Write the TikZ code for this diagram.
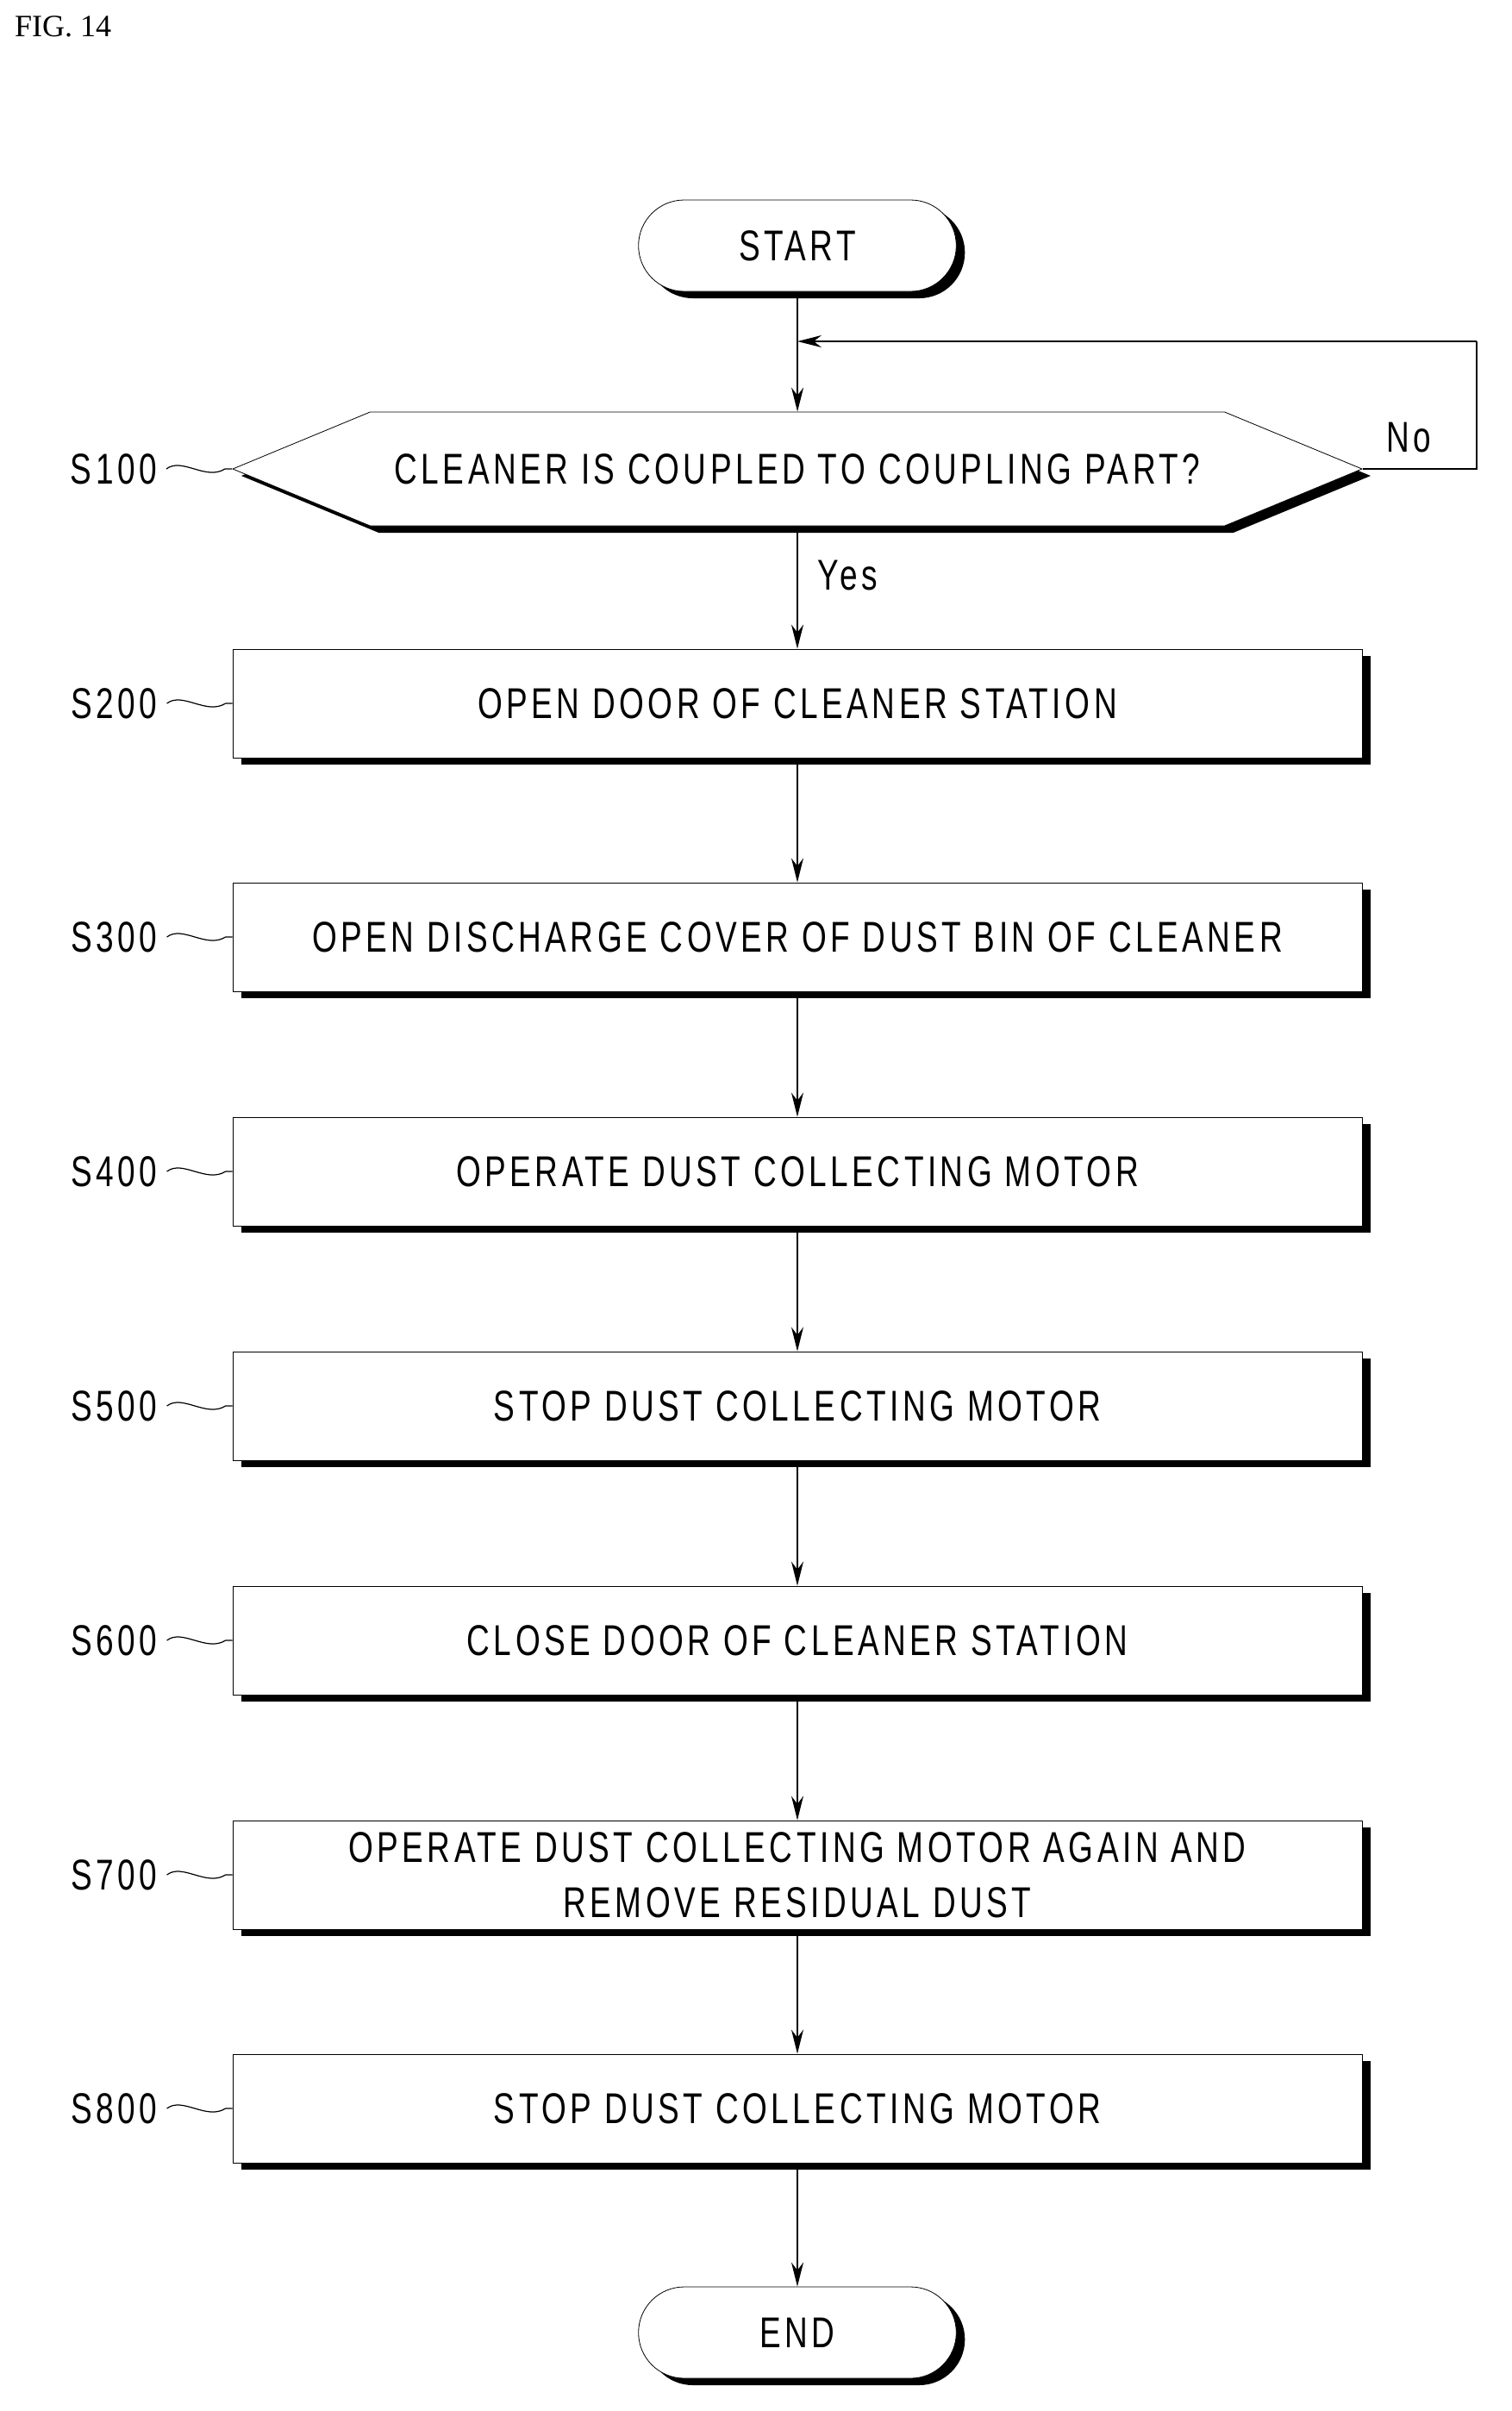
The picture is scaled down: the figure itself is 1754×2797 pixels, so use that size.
\documentclass[tikz,border=0pt]{standalone}
\usepackage{fontspec}
\setmainfont{Liberation Serif}
\setsansfont{Liberation Sans}[FakeStretch=0.74,LetterSpace=9]
\usetikzlibrary{shapes.misc,shapes.symbols,shadows,arrows.meta}
\begin{document}
\begin{tikzpicture}[x=0.5pt,y=-0.5pt,
  shd/.style={drop shadow={shadow xshift=5pt,shadow yshift=-4pt,opacity=1,fill=black}},
  box/.style={draw,fill=white,shd,minimum width=655pt,minimum height=63pt,font=\sffamily\fontsize{25}{32}\selectfont,align=center,inner sep=0pt},
  term/.style={draw,fill=white,shd,rounded rectangle,minimum width=191pt,minimum height=53pt,font=\sffamily\fontsize{25}{30}\selectfont},
  dec/.style={draw,fill=white,shd,signal,signal to=west and east,signal pointer angle=45,minimum width=655pt,minimum height=66pt,font=\sffamily\fontsize{25}{30}\selectfont,inner sep=0pt},
  lab/.style={font=\sffamily\fontsize{25}{30}\selectfont,anchor=east},
  arr/.style={-{Stealth[length=14pt,width=7pt]},line width=0.9pt},
  ln/.style={line width=0.9pt}]
\useasboundingbox (0,0) rectangle (1754,2797);
\node[font=\fontsize{18}{22}\selectfont,anchor=north west] (fig) at (10,12) {FIG. 14};
\node[term] (start) at (925,285) {START};
\node[dec] (s100) at (925,544) {CLEANER IS COUPLED TO COUPLING PART?};
\node[box] (s200) at (925,816) {OPEN DOOR OF CLEANER STATION};
\node[box] (s300) at (925,1087) {OPEN DISCHARGE COVER OF DUST BIN OF CLEANER};
\node[box] (s400) at (925,1359) {OPERATE DUST COLLECTING MOTOR};
\node[box] (s500) at (925,1631) {STOP DUST COLLECTING MOTOR};
\node[box] (s600) at (925,1903) {CLOSE DOOR OF CLEANER STATION};
\node[box] (s700) at (925,2175) {OPERATE DUST COLLECTING MOTOR AGAIN AND\\REMOVE RESIDUAL DUST};
\node[box] (s800) at (925,2446) {STOP DUST COLLECTING MOTOR};
\node[term] (end) at (925,2706) {END};
\coordinate (j) at (925,396);
\coordinate (r1) at (1713,544);
\coordinate (r2) at (1713,396);
\draw[arr] (start) -- (s100);
\draw[ln] (s100.east) -- (r1) -- (r2);
\draw[arr] (r2) -- (j);
\node[font=\sffamily\fontsize{25}{30}\selectfont] (no) at (1634,508) {No};
\draw[arr] (s100) -- node[right=8pt,font=\sffamily\fontsize{25}{30}\selectfont,pos=0.4]{Yes} (s200);
\draw[arr] (s200) -- (s300);
\draw[arr] (s300) -- (s400);
\draw[arr] (s400) -- (s500);
\draw[arr] (s500) -- (s600);
\draw[arr] (s600) -- (s700);
\draw[arr] (s700) -- (s800);
\draw[arr] (s800) -- (end);
\foreach \n/\t in {s100/S100,s200/S200,s300/S300,s400/S400,s500/S500,s600/S600,s700/S700,s800/S800}{
  \node[lab] (l\n) at ([xshift=-40pt]\n.west) {\t};
  \draw[line width=0.6pt] ([xshift=2pt]l\n.east) .. controls +(18,-14) and +(-22,14) .. ([xshift=-4pt]\n.west) -- (\n.west);
}
\end{tikzpicture}
\end{document}
